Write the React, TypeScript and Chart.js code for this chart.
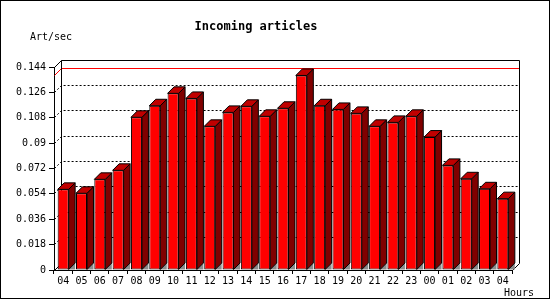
import { useEffect, useRef } from 'react';
import { Chart, registerables } from 'chart.js';

Chart.register(...registerables);

const hours = ['04', '05', '06', '07', '08', '09', '10', '11', '12', '13', '14', '15', '16', '17', '18', '19', '20', '21', '22', '23', '00', '01', '02', '03', '04'];
const artPerSec = [0.0572, 0.0544, 0.0643, 0.0707, 0.1083, 0.1165, 0.1253, 0.1217, 0.1019, 0.1118, 0.1161, 0.109, 0.1147, 0.138, 0.1165, 0.1139, 0.1111, 0.1019, 0.1047, 0.109, 0.0943, 0.0742, 0.0647, 0.0576, 0.0506];
const yTickValues = [0, 0.018, 0.036, 0.054, 0.072, 0.09, 0.108, 0.126, 0.144];
const yTickLabels = ['0', '0.018', '0.036', '0.054', '0.072', '0.09', '0.108', '0.126', '0.144'];

const FONT = 'DejaVu Sans Mono';
const D = 7; // depth of the 3D frame
const BD = 6.5; // depth of the 3D bars

const al = (p: number) => Math.round(p - 0.5) + 0.5;

const threeD = {
  id: 'threeD',
  beforeDatasetsDraw(chart: any) {
    const { ctx } = chart;
    const xs = chart.scales.x;
    const ys = chart.scales.y;
    const L = al(xs.left);
    const R = al(xs.right);
    const T = al(ys.top);
    const B = al(ys.bottom);
    ctx.save();
    ctx.lineWidth = 1;
    // dotted gridlines on the back wall
    ctx.strokeStyle = '#000';
    ctx.setLineDash([2, 2]);
    yTickValues.forEach((v) => {
      if (v === 0 || v === ys.max) return;
      const y = al(ys.getPixelForValue(v));
      ctx.beginPath();
      ctx.moveTo(L, y);
      ctx.lineTo(L + D, y - D);
      ctx.lineTo(R + D, y - D);
      ctx.stroke();
    });
    ctx.setLineDash([]);
    // max line
    const maxV = Math.max(...artPerSec);
    const ym = al(ys.getPixelForValue(maxV));
    ctx.strokeStyle = '#ff0000';
    ctx.beginPath();
    ctx.moveTo(L, ym);
    ctx.lineTo(L + D, ym - D);
    ctx.lineTo(R + D, ym - D);
    ctx.stroke();
    // frame
    ctx.strokeStyle = '#000';
    ctx.beginPath();
    ctx.moveTo(L, T);
    ctx.lineTo(L + D, T - D);
    ctx.lineTo(R + D, T - D);
    ctx.lineTo(R + D, B - D);
    ctx.lineTo(R, B);
    ctx.moveTo(L + D, T - D);
    ctx.lineTo(L + D, B - D);
    ctx.moveTo(L, B);
    ctx.lineTo(L + D, B - D);
    ctx.stroke();
    // floor shadows
    const meta = chart.getDatasetMeta(0);
    ctx.fillStyle = '#8c8c8c';
    meta.data.forEach((el: any) => {
      const r = el.x + el.width / 2;
      const b = el.base;
      ctx.beginPath();
      ctx.moveTo(r, b);
      ctx.lineTo(r + BD, b - BD);
      ctx.lineTo(r + BD, b);
      ctx.closePath();
      ctx.fill();
    });
    ctx.restore();
  },
  afterDatasetsDraw(chart: any) {
    const { ctx } = chart;
    const meta = chart.getDatasetMeta(0);
    ctx.save();
    ctx.lineWidth = 1;
    ctx.strokeStyle = '#000';
    ctx.lineJoin = 'miter';
    meta.data.forEach((el: any) => {
      const l = el.x - el.width / 2;
      const r = el.x + el.width / 2;
      const t = el.y;
      const b = el.base;
      // side face
      ctx.fillStyle = '#800000';
      ctx.beginPath();
      ctx.moveTo(r, t);
      ctx.lineTo(r + BD, t - BD);
      ctx.lineTo(r + BD, b - BD);
      ctx.lineTo(r, b);
      ctx.closePath();
      ctx.fill();
      ctx.stroke();
      // top face
      ctx.fillStyle = '#c00000';
      ctx.beginPath();
      ctx.moveTo(l, t);
      ctx.lineTo(l + BD, t - BD);
      ctx.lineTo(r + BD, t - BD);
      ctx.lineTo(r, t);
      ctx.closePath();
      ctx.fill();
      ctx.stroke();
    });
    ctx.restore();
  },
  afterDraw(chart: any) {
    const { ctx } = chart;
    ctx.save();
    ctx.fillStyle = '#000';
    ctx.font = `10px "${FONT}"`;
    ctx.textBaseline = 'middle';
    ctx.textAlign = 'left';
    ctx.fillText('Art/sec', 30, 37);
    ctx.fillText('Hours', 504, 293);
    ctx.strokeStyle = '#000';
    ctx.lineWidth = 1;
    ctx.strokeRect(0.5, 0.5, 549, 298);
    ctx.restore();
  },
};

export default function App() {
  const ref = useRef<HTMLCanvasElement | null>(null);
  useEffect(() => {
    if (!ref.current) return;
    Chart.defaults.font.family = FONT;
    const chart = new Chart(ref.current, {
      type: 'bar',
      data: {
        labels: hours,
        datasets: [
          {
            data: artPerSec,
            backgroundColor: '#ff0000',
            borderColor: '#000000',
            borderWidth: 1,
            borderSkipped: false,
            barPercentage: 0.6,
            categoryPercentage: 1,
          },
        ],
      },
      options: {
        responsive: false,
        animation: false,
        devicePixelRatio: 1,
        layout: { padding: { left: 0, right: 38, top: 0, bottom: 0 } },
        plugins: {
          legend: { display: false },
          tooltip: { enabled: false },
          title: {
            display: true,
            text: 'Incoming articles',
            color: '#000',
            font: { family: FONT, size: 12, weight: 'bold' },
            padding: { top: 20, bottom: 32.6 },
          },
        },
        scales: {
          x: {
            type: 'category',
            offset: true,
            grid: { offset: true, drawOnChartArea: false, drawTicks: true, tickLength: 4, color: '#000', lineWidth: 1 },
            border: { display: true, color: '#000', width: 1 },
            ticks: { color: '#000', font: { family: FONT, size: 10 }, padding: 1, maxRotation: 0, autoSkip: false },
            afterFit: (s: any) => {
              s.height = 30;
            },
          },
          y: {
            min: 0,
            max: 0.144,
            afterBuildTicks: (s: any) => {
              s.ticks = yTickValues.map((v) => ({ value: v }));
            },
            grid: { drawOnChartArea: false, drawTicks: true, tickLength: 5, color: '#000', lineWidth: 1 },
            border: { display: true, color: '#000', width: 1 },
            ticks: {
              color: '#000',
              font: { family: FONT, size: 10 },
              padding: 3,
              callback: (_v: any, i: number) => yTickLabels[i],
            },
            afterFit: (s: any) => {
              s.width = 54;
            },
          },
        },
      },
      plugins: [threeD],
    });
    return () => chart.destroy();
  }, []);
  return (
    <div style={{ position: 'absolute', left: 0, top: 0, width: 550, height: 300, background: '#fff' }}>
      <canvas ref={ref} width={550} height={300} />
    </div>
  );
}
